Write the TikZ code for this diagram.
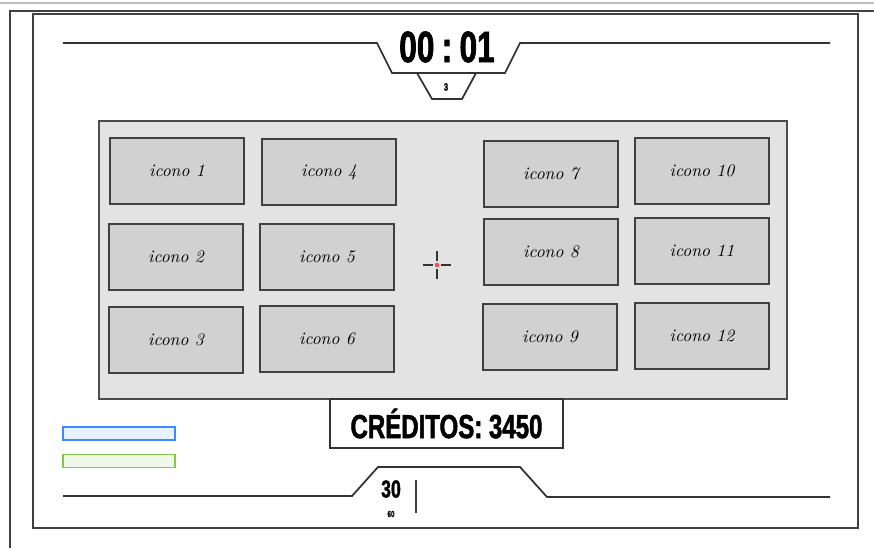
\documentclass[tikz,border=0pt]{standalone}
\usepackage{fontspec}
\newfontfamily\hudfont[FakeStretch=0.72,FakeBold=1.5]{Liberation Sans}
\definecolor{barblue}{RGB}{60,140,255}
\definecolor{bargreen}{RGB}{130,200,70}

\tikzset{
  hudline/.style={draw=black!80, line width=1pt},
  iconbox/.style={draw=black!75, fill=black!18, line width=1pt,
    minimum width=2.68cm, minimum height=1.32cm, inner sep=0pt,
    font=\itshape},
  statbar/.style={line width=1pt, minimum width=2.24cm,
    minimum height=0.26cm, inner sep=0pt},
}

\begin{document}
\begin{tikzpicture}[x=0.02cm, y=-0.02cm]
\useasboundingbox (0,0) rectangle (874,548);
% window frame
\draw[black!25, line width=0.8pt] (0,3)--(874,3);
\draw[black!75, line width=1.1pt] (10,548)--(10,11)--(874,11);
\draw[black!75, line width=1.1pt] (33,14) rectangle (858,528);

% timer on top
\draw[hudline] (63,43)--(377,43)--(392,73)--(505,73)--(520,43)--(830,43);
\draw[hudline] (417,73)--(432,99)--(462,99)--(476,73);
\node[font=\hudfont\bfseries\fontsize{25}{25}\selectfont] (reloj) at (447,47) {00\,:\,01};
\node[font=\hudfont\bfseries\fontsize{6}{6}\selectfont] (ronda) at (446,87) {3};

% panel with the icons
\path[fill=black!11, draw=black!70, line width=1pt] (99,121) rectangle (787,399);
\foreach \n/\x/\y in {1/177/171, 2/176/257, 3/176/340,
                      4/329/172, 5/327/257, 6/327/339,
                      7/551/174, 8/551/252, 9/550/337,
                      10/702/171, 11/702/251, 12/702/336}
  \node[iconbox] (icono\n) at (\x,\y) {icono \n};

% crosshair
\coordinate (mira) at (437,265);
\draw[black!80, line width=1.2pt] (423,265)--(433,265) (441,265)--(451,265)
  (437,251)--(437,261) (437,269)--(437,279);
\fill[red!70] (mira) circle (1.3pt);

% credits
\node[draw=black!80, fill=white, line width=1pt, minimum width=4.66cm,
  minimum height=0.98cm, font=\hudfont\bfseries\fontsize{19}{19}\selectfont]
  (creditos) at (446.5,423.5) {CRÉDITOS: 3450};

% bars
\node[statbar, draw=barblue, fill=barblue!12] (vida) at (119,433.5) {};
\node[statbar, draw=bargreen, fill=bargreen!12] (energia) at (119,461) {};

% ammo at the bottom
\draw[hudline] (63,496)--(352,496)--(378,467)--(520,467)--(547,497)--(830,497);
\node[font=\hudfont\bfseries\fontsize{14}{14}\selectfont] (balas) at (391,489) {30};
\node[font=\hudfont\bfseries\fontsize{5}{5}\selectfont] (cargador) at (391,514) {60};
\draw[black!75, line width=1.2pt] (416,480)--(416,513);
\end{tikzpicture}
\end{document}
